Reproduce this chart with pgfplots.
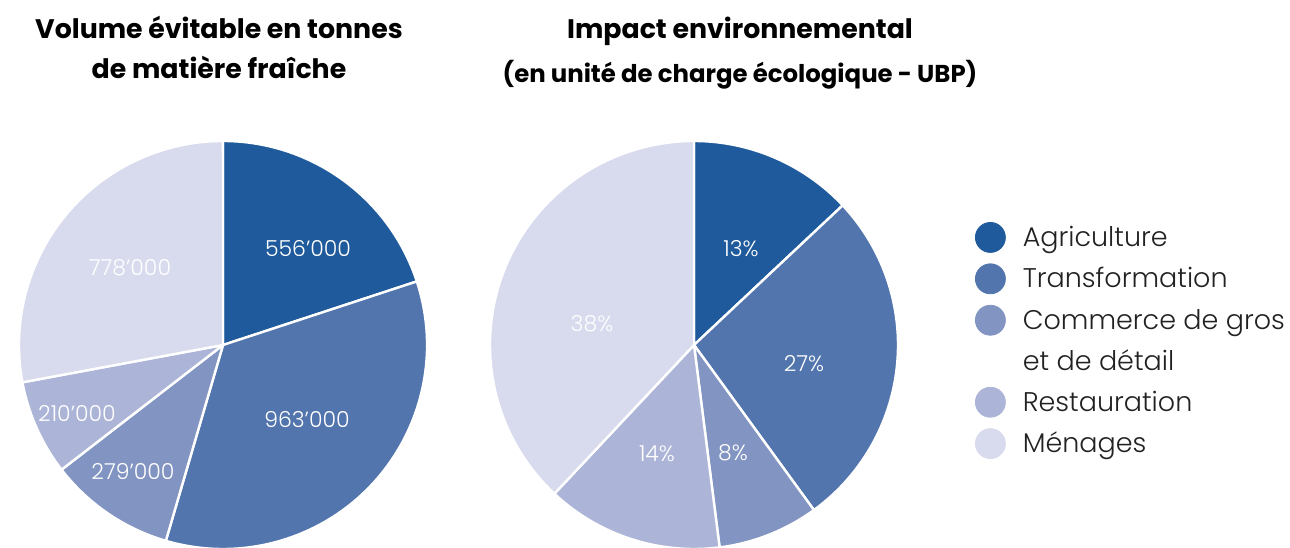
\documentclass[border=0pt]{standalone}
\usepackage{pgfplots}
\usepackage{pgfplotstable}
\pgfplotsset{compat=1.18}
\usepackage{fontspec}
\setmainfont{Poppins}
\IfFontExistsTF{Poppins Light}{\newfontfamily\lightfont{Poppins Light}}{\newfontfamily\lightfont{Poppins}}

\definecolor{agri}{HTML}{1F5B9C}
\definecolor{trans}{HTML}{5275AD}
\definecolor{comm}{HTML}{8294C2}
\definecolor{rest}{HTML}{ACB5D7}
\definecolor{men}{HTML}{D8DBED}
\definecolor{txt}{HTML}{222222}

% values in thousands of tonnes; lx, ly = label position (px from top left)
\pgfplotstableread{
name value lx ly
Agriculture 556 308 248
Transformation 963 307 420
Commerce 279 133 472
Restauration 210 77 414
Menages 778 130 268
}\voltab

% percentages of environmental impact (UBP)
\pgfplotstableread{
name value lx ly
Agriculture 13 741 249
Transformation 27 804 364
Commerce 8 733 453
Restauration 14 657 454
Menages 38 592 324
}\imptab

% #1 table, #2 prefix, #3 label suffix
\def\pieangles#1#2#3{%
  \xdef\pietot{0}%
  \foreach \i in {0,...,4}{%
    \pgfplotstablegetelem{\i}{value}\of{#1}%
    \pgfmathsetmacro\t{\pietot+\pgfplotsretval}\xdef\pietot{\t}}%
  \xdef\pieang{90}%
  \foreach \i in {0,...,4}{%
    \pgfplotstablegetelem{\i}{value}\of{#1}%
    \let\v\pgfplotsretval
    \pgfmathsetmacro\e{\pieang-\v/\pietot*360}%
    \expandafter\xdef\csname #2s\i\endcsname{\pieang}%
    \expandafter\xdef\csname #2e\i\endcsname{\e}%
    \expandafter\xdef\csname #2l\i\endcsname{\v#3}%
    \pgfplotstablegetelem{\i}{lx}\of{#1}%
    \expandafter\xdef\csname #2x\i\endcsname{\pgfplotsretval}%
    \pgfplotstablegetelem{\i}{ly}\of{#1}%
    \expandafter\xdef\csname #2y\i\endcsname{\pgfplotsretval}%
    \xdef\pieang{\e}}%
}
\pieangles{\voltab}{V}{’000}
\pieangles{\imptab}{I}{\%}

\begin{document}
\begin{tikzpicture}
\begin{axis}[
  name=ax,
  scale only axis, width=645pt, height=273.5pt,
  xmin=0, xmax=1290, ymin=-547, ymax=0,
  hide axis, clip=true,
  legend style={at={(0.7558,0.5941)}, anchor=north west, draw=none, fill=none,
    inner sep=0pt, outer sep=0pt, row sep=5.3pt, column sep=8.5pt,
    font=\lightfont\fontsize{13.5pt}{15pt}\selectfont, text=txt,
    nodes={inner sep=0pt, text height=12pt, text depth=3pt}},
  legend cell align=left,
]
\pgfplotsinvokeforeach{0,...,4}{
  \filldraw[fill={\ifcase#1 agri\or trans\or comm\or rest\or men\fi}, draw=white, line width=1.2pt, line join=round]
    (axis cs:223,-345) -- ++(\csname Vs#1\endcsname:102pt)
    arc[start angle=\csname Vs#1\endcsname, end angle=\csname Ve#1\endcsname, radius=102pt] -- cycle;
  \filldraw[fill={\ifcase#1 agri\or trans\or comm\or rest\or men\fi}, draw=white, line width=1.2pt, line join=round]
    (axis cs:694,-345) -- ++(\csname Is#1\endcsname:102pt)
    arc[start angle=\csname Is#1\endcsname, end angle=\csname Ie#1\endcsname, radius=102pt] -- cycle;
}
\pgfplotsinvokeforeach{0,...,4}{
  \node[text=white, font=\lightfont\fontsize{11pt}{13pt}\selectfont, inner sep=0pt]
    at (axis cs:\csname Vx#1\endcsname,-\csname Vy#1\endcsname) {\csname Vl#1\endcsname};
  \node[text=white, font=\lightfont\fontsize{11pt}{13pt}\selectfont, inner sep=0pt]
    at (axis cs:\csname Ix#1\endcsname,-\csname Iy#1\endcsname) {\csname Il#1\endcsname};
}
\node[anchor=base, font=\bfseries\fontsize{13.4pt}{15pt}\selectfont, inner sep=0pt] at (axis cs:219,-39) {Volume évitable en tonnes};
\node[anchor=base, font=\bfseries\fontsize{13.4pt}{15pt}\selectfont, inner sep=0pt] at (axis cs:219,-79) {de matière fraîche};
\node[anchor=base, font=\bfseries\fontsize{13.4pt}{15pt}\selectfont, inner sep=0pt] at (axis cs:740,-39) {Impact environnemental};
\node[anchor=base, font=\bfseries\fontsize{12.2pt}{14pt}\selectfont, inner sep=0pt] at (axis cs:740,-83) {(en unité de charge écologique - UBP)};

\addlegendimage{legend image code/.code={\fill[agri] (7.5pt,0pt) circle[radius=7.5pt];}}
\addlegendentry{Agriculture}
\addlegendimage{legend image code/.code={\fill[trans] (7.5pt,0pt) circle[radius=7.5pt];}}
\addlegendentry{Transformation}
\addlegendimage{legend image code/.code={\fill[comm] (7.5pt,0pt) circle[radius=7.5pt];}}
\addlegendentry{Commerce de gros}
\addlegendimage{empty legend}
\addlegendentry{et de détail}
\addlegendimage{legend image code/.code={\fill[rest] (7.5pt,0pt) circle[radius=7.5pt];}}
\addlegendentry{Restauration}
\addlegendimage{legend image code/.code={\fill[men] (7.5pt,0pt) circle[radius=7.5pt];}}
\addlegendentry{Ménages}
\end{axis}
\pgfresetboundingbox
\path (ax.south west) rectangle (ax.north east);
\end{tikzpicture}
\end{document}
